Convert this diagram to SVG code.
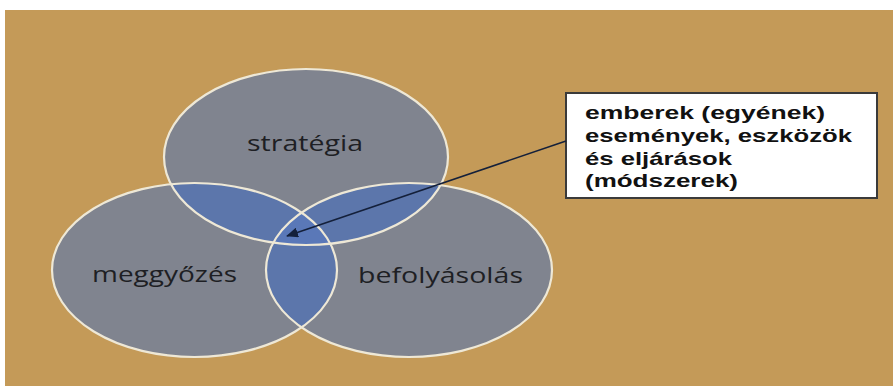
<svg xmlns="http://www.w3.org/2000/svg" width="893" height="386" viewBox="0 0 893 386">
<style>
.lbl{font-family:"Open Sans","Liberation Sans",sans-serif;font-size:21px;fill:#1e1f24}
.box{font-family:"Liberation Sans","Open Sans",sans-serif;font-size:19px;font-weight:bold;fill:#111}
.ring{fill:none;stroke:#eee8d6;stroke-width:2.2}
.base{fill:#80848f}
.pair{fill:#5c76ab}
.triple{fill:#5a78b8}
</style>
<defs>
<clipPath id="cTop"><ellipse cx="306" cy="157" rx="142" ry="88"/></clipPath>
<clipPath id="cLeft"><ellipse cx="194.5" cy="270" rx="142.5" ry="87"/></clipPath>
<clipPath id="cRight"><ellipse cx="409" cy="270" rx="143" ry="87"/></clipPath>
<marker id="ah" viewBox="0 0 12 10" refX="11" refY="5" markerWidth="12" markerHeight="10" markerUnits="userSpaceOnUse" orient="auto">
<path d="M0,0 L12,5 L0,10 Z" fill="#14203a"/>
</marker>
</defs>
<rect x="0" y="0" width="893" height="386" fill="#ffffff"/>
<rect x="5" y="10" width="888" height="376" fill="#c49a58"/>
<g id="venn-fills">
<ellipse class="base" cx="306" cy="157" rx="142" ry="88"/>
<ellipse class="base" cx="194.5" cy="270" rx="142.5" ry="87"/>
<ellipse class="base" cx="409" cy="270" rx="143" ry="87"/>
<g clip-path="url(#cTop)"><ellipse class="pair" cx="194.5" cy="270" rx="142.5" ry="87"/><ellipse class="pair" cx="409" cy="270" rx="143" ry="87"/></g>
<g clip-path="url(#cLeft)"><ellipse class="pair" cx="409" cy="270" rx="143" ry="87"/></g>
<g clip-path="url(#cTop)"><g clip-path="url(#cLeft)"><ellipse class="triple" cx="409" cy="270" rx="143" ry="87"/></g></g>
</g>
<g id="node-strategia">
<ellipse class="ring" cx="306" cy="157" rx="142" ry="88"/>
<text class="lbl" x="247" y="151" textLength="116" lengthAdjust="spacingAndGlyphs">stratégia</text>
</g>
<g id="node-meggyozes">
<ellipse class="ring" cx="194.5" cy="270" rx="142.5" ry="87"/>
<text class="lbl" x="92" y="282" textLength="145" lengthAdjust="spacingAndGlyphs">meggyőzés</text>
</g>
<g id="node-befolyasolas">
<ellipse class="ring" cx="409" cy="270" rx="143" ry="87"/>
<text class="lbl" x="358" y="283" textLength="165" lengthAdjust="spacingAndGlyphs">befolyásolás</text>
</g>
<g id="node-note">
<rect x="566" y="93" width="311" height="105" fill="#ffffff" stroke="#3a3a3a" stroke-width="2"/>
<text class="box" x="585" y="119" textLength="240" lengthAdjust="spacingAndGlyphs">emberek (egyének)</text>
<text class="box" x="585" y="142" textLength="267" lengthAdjust="spacingAndGlyphs">események, eszközök</text>
<text class="box" x="585" y="165" textLength="147" lengthAdjust="spacingAndGlyphs">és eljárások</text>
<text class="box" x="585" y="187" textLength="153" lengthAdjust="spacingAndGlyphs">(módszerek)</text>
</g>
<g id="connectors">
<line x1="566" y1="141" x2="287" y2="236" stroke="#14203a" stroke-width="1.6" marker-end="url(#ah)"/>
</g>
</svg>
